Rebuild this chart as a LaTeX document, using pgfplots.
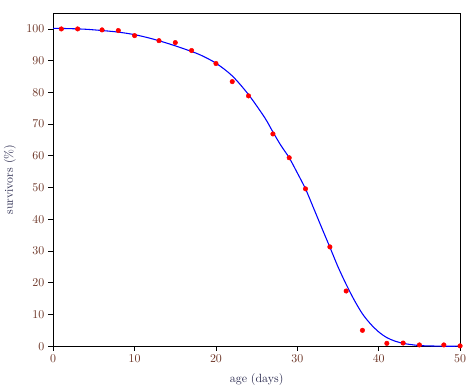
\documentclass[border=0pt]{standalone}
\usepackage{pgfplots}
\pgfplotsset{compat=1.18}
\definecolor{ticklab}{rgb}{0.42,0.2,0.14}
\definecolor{axlab}{rgb}{0.18,0.18,0.32}
\begin{document}
\begin{tikzpicture}
\begin{axis}[
  scale only axis,
  width=342pt, height=280pt,
  xmin=0, xmax=50, ymin=0, ymax=105,
  xtick={0,10,20,30,40,50},
  ytick={0,10,20,30,40,50,60,70,80,90,100},
  tick align=outside,
  xtick pos=left, ytick pos=left,
  major tick length=4pt,
  tick style={black, line width=0.6pt},
  axis line style={line width=0.6pt},
  ticklabel style={text=ticklab},
  xlabel={age (days)},
  ylabel={survivors (\%)},
  label style={text=axlab},
  xlabel style={yshift=-2pt},
  ylabel style={yshift=2pt},
  clip=false,
]
\addplot[blue, line width=0.9pt, smooth] coordinates {
(0,100.2) (2,100.1) (4,99.9) (6,99.5) (8,99.0) (10,98.2) (12,97.0) (14,95.5)
(16,93.8) (18,91.9) (20,89.2) (22,85.2) (24,79.3) (26,72.0) (27,67.5) (28,63.2)
(29,59.4) (30,54.6) (31,49.6) (32,43.5) (33,37.3) (34,31.2) (35,25.0) (36,19.5)
(37,14.5) (38,10.2) (39,7.0) (40,4.5) (41,2.7) (42,1.6) (43,0.9) (44,0.5)
(45,0.2) (46,0.1) (48,0) (50,0)
};
\addplot[only marks, mark=*, mark size=1.9pt, red, mark options={draw=red, fill=red}] coordinates {
(1,100) (3,100) (6,99.7) (8,99.5) (10,97.9) (13,96.3) (15,95.7) (17,93.2)
(20,89.1) (22,83.4) (24,78.9) (27,66.9) (29,59.4) (31,49.6) (34,31.3)
(36,17.4) (38,5.0) (41,0.9) (43,1.0) (45,0.4) (48,0.4) (50,0.1)
};
\end{axis}
\path (current axis.north east) -- ++(7pt,11pt);
\end{tikzpicture}
\end{document}
